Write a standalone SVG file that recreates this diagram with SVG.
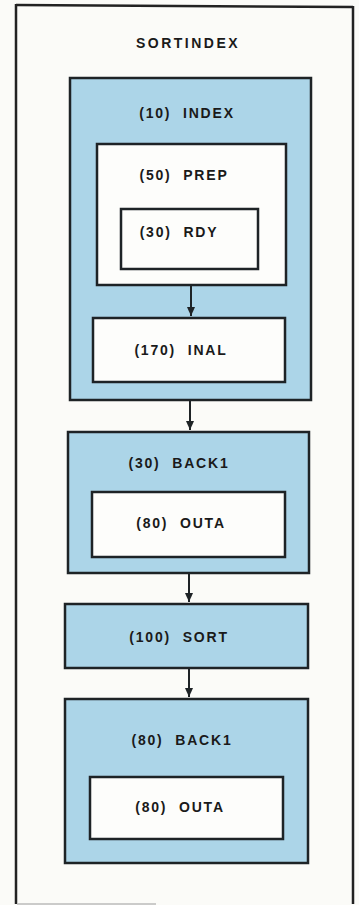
<svg xmlns="http://www.w3.org/2000/svg" width="359" height="905" viewBox="0 0 359 905">
<style>
.blue{fill:#acd5e8;stroke:#1e2326;stroke-width:2.5}
.white{fill:#fdfdfb;stroke:#1e2326;stroke-width:2.5}
.lbl{font-family:"Liberation Sans",Arial,sans-serif;font-weight:bold;font-size:14px;letter-spacing:1.8px;word-spacing:6px;fill:#1a1a1a;text-anchor:middle}
.title{font-family:"Liberation Sans",Arial,sans-serif;font-weight:bold;font-size:14px;letter-spacing:2.5px;fill:#1a1a1a;text-anchor:middle}
.conn{stroke:#1e2326;stroke-width:2;fill:none}
</style>
<defs>
<marker id="ah" viewBox="0 0 9 8" refX="9" refY="4" markerWidth="9" markerHeight="8" markerUnits="userSpaceOnUse" orient="auto">
<path d="M0,0 L9,4 L0,8 Z" fill="#1e2326"/>
</marker>
</defs>
<rect x="0" y="0" width="359" height="905" fill="#fbfbf8"/>
<g id="frame">
<path d="M16,5 L353,7" stroke="#222" stroke-width="2.5" fill="none"/>
<path d="M16,4 L16,904" stroke="#222" stroke-width="2.5" fill="none"/>
<path d="M353,6 L353,904" stroke="#222" stroke-width="2.5" fill="none"/>
<path d="M17,904 L156,904" stroke="#bbbbbb" stroke-width="1.5" fill="none"/>
</g>
<g id="title"><text class="title" x="188" y="48">SORTINDEX</text></g>
<g id="index">
<rect class="blue" x="70" y="78" width="241" height="322"/>
<text class="lbl" x="187" y="118">(10) INDEX</text>
</g>
<g id="prep">
<rect class="white" x="97" y="144" width="189" height="141"/>
<text class="lbl" x="184" y="180">(50) PREP</text>
</g>
<g id="rdy">
<rect class="white" x="121" y="209" width="137" height="60"/>
<text class="lbl" x="179" y="237">(30) RDY</text>
</g>
<g id="inal">
<rect class="white" x="93" y="318" width="192" height="64"/>
<text class="lbl" x="181" y="355">(170) INAL</text>
</g>
<g id="back1a">
<rect class="blue" x="68" y="432" width="241" height="141"/>
<text class="lbl" x="179" y="468">(30) BACK1</text>
</g>
<g id="outa1">
<rect class="white" x="92" y="492" width="193" height="65"/>
<text class="lbl" x="181" y="528">(80) OUTA</text>
</g>
<g id="sort">
<rect class="blue" x="65" y="604" width="243" height="64"/>
<text class="lbl" x="179" y="642">(100) SORT</text>
</g>
<g id="back1b">
<rect class="blue" x="65" y="699" width="243" height="164"/>
<text class="lbl" x="182" y="745">(80) BACK1</text>
</g>
<g id="outa2">
<rect class="white" x="90" y="777" width="193" height="62"/>
<text class="lbl" x="180" y="812">(80) OUTA</text>
</g>
<g id="connectors">
<line class="conn" x1="191" y1="286" x2="191" y2="316" marker-end="url(#ah)"/>
<line class="conn" x1="190" y1="401" x2="190" y2="430" marker-end="url(#ah)"/>
<line class="conn" x1="189" y1="574" x2="189" y2="602" marker-end="url(#ah)"/>
<line class="conn" x1="189" y1="669" x2="189" y2="697" marker-end="url(#ah)"/>
</g>
</svg>
